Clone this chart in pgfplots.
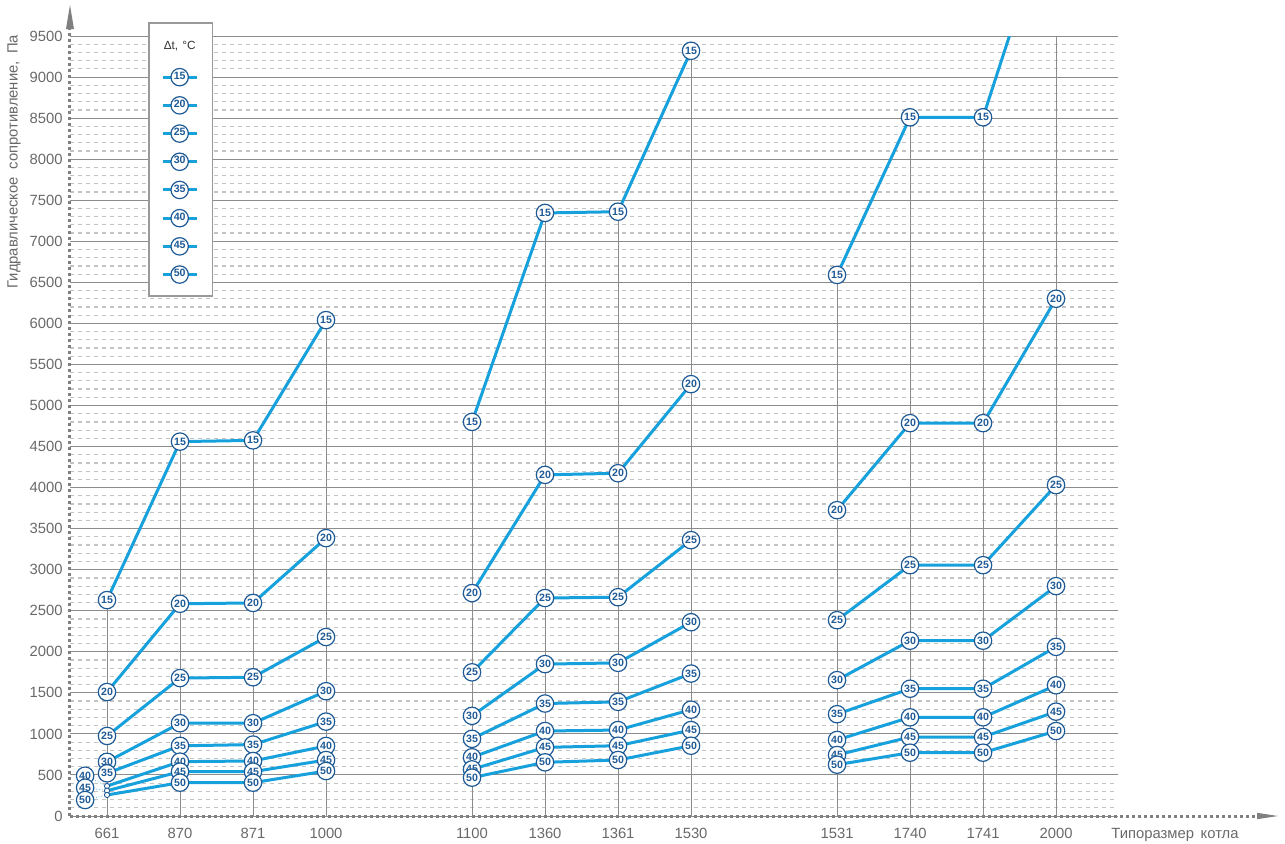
\documentclass[border=0pt]{standalone}
\usepackage{pgfplots}
\usepackage{pgfplotstable}
\pgfplotsset{compat=1.18}
\usepackage{fontspec}
\setmainfont{Liberation Sans}
\definecolor{lineblue}{RGB}{22,160,220}
\definecolor{mkblue}{RGB}{30,90,150}
\definecolor{txtgray}{RGB}{105,105,105}
\definecolor{axgray}{RGB}{128,128,128}
\definecolor{gridgray}{RGB}{140,140,140}
\definecolor{minorgray}{RGB}{195,195,195}
\newcommand{\tickfont}{\fontsize{7.4}{8.9}\selectfont}
\newcommand{\numfont}{\fontsize{5.3}{6}\selectfont\bfseries}
\newcommand{\legfont}{\fontsize{5.9}{7}\selectfont}
\tikzset{mk/.style={circle, draw=mkblue, fill=white, line width=0.6pt, minimum size=8.7pt, inner sep=0pt, font=\numfont, text=mkblue, anchor=center}}
\pgfplotsset{
 ser/.style={lineblue, line width=1.5pt, mark=none, forget plot, unbounded coords=jump},
 lab/.style={draw=none, mark=none, forget plot, restrict y to domain=0:9600, nodes near coords={#1}, every node near coord/.append style={mk}},
}
\newcommand{\legimg}[1]{\addlegendimage{legend image code/.code={\path[draw=none, fill=none] (0,-7.05pt) rectangle (30.8pt,7.05pt); \draw[lineblue, line width=1.5pt] (6.9pt,0) -- (23.9pt,0); \node[mk] at (15.4pt,0) {#1};}}\addlegendentry{\mbox{}}}

\pgfplotstableread{
x s15 s20 s25 s30 s35 s40 s45 s50
0 2630 1510 975 660 520 365 308 256
1 4560 2585 1680 1130 855 662 540 406
2 4575 2595 1690 1130 870 670 540 406
3 6040 3385 2180 1520 1150 853 682 548
4 nan nan nan nan nan nan nan nan
5 4800 2715 1750 1220 940 715 568 467
6 7345 4155 2655 1850 1370 1035 836 654
7 7360 4175 2665 1865 1390 1047 856 682
8 9320 5260 3360 2360 1735 1295 1047 856
9 nan nan nan nan nan nan nan nan
10 6590 3725 2385 1655 1240 926 743 625
11 8510 4785 3055 2135 1550 1202 962 771
12 8510 4785 3055 2135 1550 1202 962 771
13 11250 6300 4030 2800 2060 1592 1271 1035
}\data

\pgfplotstableread{
xl l40 l45 l50
-0.30 491 345 195
1 662 540 406
2 670 540 406
3 853 682 548
5 715 568 467
6 1035 836 654
7 1047 856 682
8 1295 1047 856
10 926 743 625
11 1202 962 771
12 1202 962 771
13 1592 1271 1035
}\labdata

\begin{document}
\begin{tikzpicture}
\useasboundingbox (-35pt,-13.5pt) rectangle (607.5pt,408pt);
\begin{axis}[
 scale only axis, width=524pt, height=390pt,
 xmin=-0.507, xmax=13.849, ymin=0, ymax=9500,
 axis x line*=bottom, axis y line*=left, axis line style={draw=none},
 xtick={0,1,2,3,5,6,7,8,10,11,12,13},
 xticklabels={661,870,871,1000,1100,1360,1361,1530,1531,1740,1741,2000},
 ytick={0,500,...,9500},
 minor y tick num=4,
 ymajorgrids, yminorgrids,
 major grid style={gridgray, line width=0.5pt, solid},
 minor grid style={minorgray, line width=0.6pt, dash pattern=on 2pt off 2pt},
 major tick length=0pt, minor tick length=0pt,
 scaled y ticks=false,
 /pgf/number format/assume math mode=true,
 yticklabel style={font=\tickfont, text=txtgray, anchor=east, inner sep=0pt, xshift=-3.5pt, /pgf/number format/1000 sep={}},
 xticklabel style={font=\tickfont, text=txtgray, anchor=base, yshift=-11pt},
 legend style={at={(0.0744,1.0179)}, anchor=north west, draw=axgray!80, line width=0.9pt, fill=white, inner xsep=0pt, inner ysep=3.7pt, row sep=0pt, nodes={inner sep=0pt, draw=none}, cells={anchor=center}},
]
% vertical category lines
\addplot[ycomb, gridgray, line width=0.5pt, mark=none, forget plot] table[x=x, y=s15] {\data};
% series lines
\addplot[ser] table[x=x, y=s15] {\data};
\addplot[ser] table[x=x, y=s20] {\data};
\addplot[ser] table[x=x, y=s25] {\data};
\addplot[ser] table[x=x, y=s30] {\data};
\addplot[ser] table[x=x, y=s35] {\data};
\addplot[ser] table[x=x, y=s40] {\data};
\addplot[ser] table[x=x, y=s45] {\data};
\addplot[ser] table[x=x, y=s50] {\data};
% leader lines at 661
\addplot[forget plot, lineblue!70, line width=0.4pt, densely dotted, mark=none] coordinates {(-0.30,491) (0,365)};
\addplot[forget plot, lineblue!70, line width=0.4pt, densely dotted, mark=none] coordinates {(-0.30,345) (0,308)};
\addplot[forget plot, lineblue!70, line width=0.4pt, densely dotted, mark=none] coordinates {(-0.30,195) (0,256)};
\addplot[forget plot, only marks, mark=*, mark size=1.3pt, mark options={draw=mkblue, fill=white, line width=0.45pt}] coordinates {(0,365) (0,308) (0,256)};
% labelled markers
\addplot[lab=15] table[x=x, y=s15] {\data};
\addplot[lab=20] table[x=x, y=s20] {\data};
\addplot[lab=25] table[x=x, y=s25] {\data};
\addplot[lab=30] table[x=x, y=s30] {\data};
\addplot[lab=35] table[x=x, y=s35] {\data};
\addplot[lab=40] table[x=xl, y=l40] {\labdata};
\addplot[lab=45] table[x=xl, y=l45] {\labdata};
\addplot[lab=50] table[x=xl, y=l50] {\labdata};
% legend
\addlegendimage{legend image code/.code={\path[draw=none, fill=none] (0,-7.05pt) rectangle (30.8pt,9.3pt); \node[font=\legfont, text=black!80, inner sep=0pt, draw=none] at (15.4pt,0.8pt) {Δt,\hspace{0.35em}°C};}}
\addlegendentry{\mbox{}}
\legimg{15}
\legimg{20}
\legimg{25}
\legimg{30}
\legimg{35}
\legimg{40}
\legimg{45}
\legimg{50}
\end{axis}
% axis lines
\draw[axgray, line width=1.5pt, dash pattern=on 1.5pt off 1.5pt] (0,0) -- (593.5pt,0);
\fill[axgray] (593.5pt,1.6pt) -- (604pt,0) -- (593.5pt,-1.6pt) -- cycle;
\draw[axgray, line width=1.5pt, dash pattern=on 1.5pt off 1.5pt] (0,0) -- (0,394pt);
\fill[axgray] (-2pt,393.5pt) -- (0,405.5pt) -- (2pt,393.5pt) -- cycle;
% axis titles
\node[rotate=90, anchor=east, font=\tickfont, text=txtgray] at (-28pt,394pt) {Гидравлическое\hspace{0.5em}сопротивление,\hspace{0.5em}Па};
\node[anchor=base, font=\tickfont, text=txtgray] at (552.5pt,-11pt) {Типоразмер\hspace{0.45em}котла};
\end{tikzpicture}
\end{document}
